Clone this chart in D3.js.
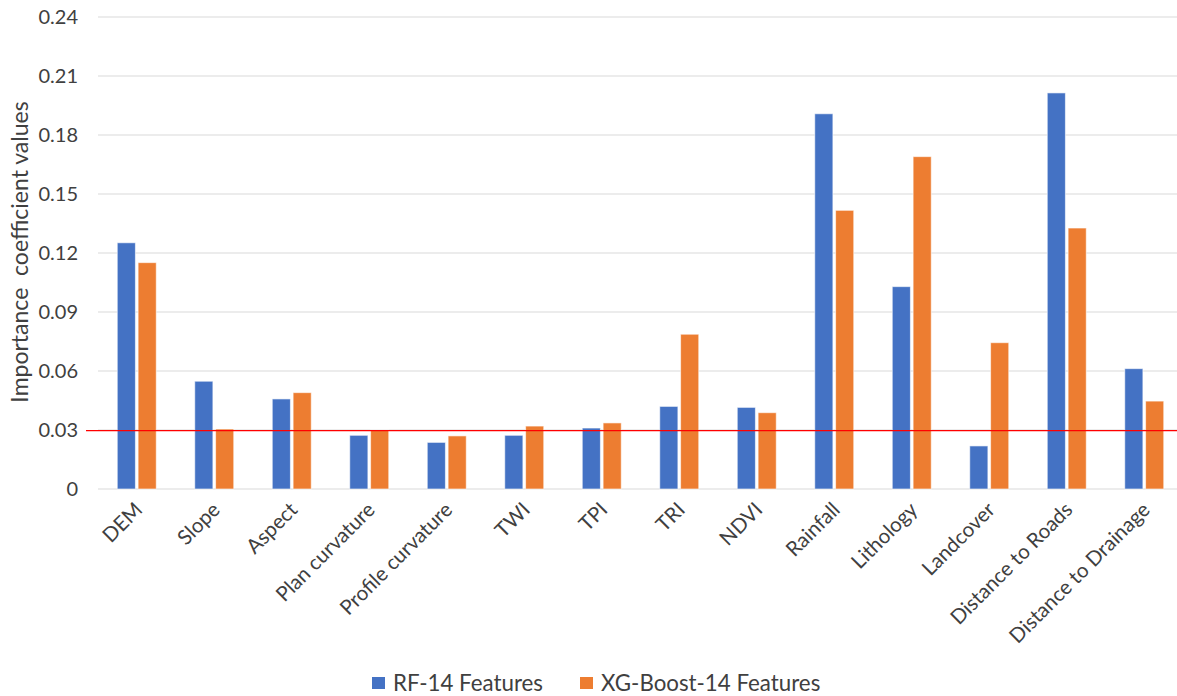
<!DOCTYPE html>
<html>
<head>
<meta charset="utf-8">
<script src="https://cdn.jsdelivr.net/npm/d3@7"></script>
<style>
  body { margin: 0; background: #fff; }
  svg { font-family: Lato, "Liberation Sans", sans-serif; }
</style>
</head>
<body>
<svg id="chart"></svg>
<script>
const categories = ["DEM", "Slope", "Aspect", "Plan curvature", "Profile curvature", "TWI", "TPI", "TRI", "NDVI",
  "Rainfall", "Lithology", "Landcover", "Distance to Roads", "Distance to Drainage"];
const seriesNames = ["RF-14 Features", "XG-Boost-14 Features"];
const rfValues = [0.1252, 0.0548, 0.0458, 0.0273, 0.0237, 0.0273, 0.0310, 0.0420, 0.0415, 0.1908, 0.1029, 0.0219, 0.2014, 0.0612];
const xgbValues = [0.1151, 0.0305, 0.0490, 0.0300, 0.0270, 0.0320, 0.0336, 0.0787, 0.0388, 0.1417, 0.1690, 0.0744, 0.1327, 0.0447];
const yTicks = [0, 0.03, 0.06, 0.09, 0.12, 0.15, 0.18, 0.21, 0.24];
const threshold = 0.0297;

const width = 1177, height = 696;
const margin = { top: 17, right: -6, bottom: 207, left: 98 };
const colors = ["#4472C4", "#ED7D31"];
const textColor = "#404040";

const svg = d3.select("#chart")
  .attr("width", width)
  .attr("height", height);

const x = d3.scaleBand()
  .domain(categories)
  .range([margin.left, width - margin.right]);

const x1 = d3.scaleBand()
  .domain(seriesNames)
  .range([0, 39])
  .paddingInner(0.13);

const y = d3.scaleLinear()
  .domain([0, 0.24])
  .range([height - margin.bottom, margin.top]);

// gridlines
svg.append("g")
  .selectAll("line")
  .data(yTicks)
  .join("line")
  .attr("x1", margin.left)
  .attr("x2", width)
  .attr("y1", d => y(d))
  .attr("y2", d => y(d))
  .attr("stroke", "#d9d9d9")
  .attr("stroke-width", 1);

// y tick labels
const yAxis = d3.axisLeft(y)
  .tickValues(yTicks)
  .tickSize(0)
  .tickPadding(0)
  .tickFormat(d => d === 0 ? "0" : d3.format(".2f")(d));

const yAxisGroup = svg.append("g")
  .attr("transform", `translate(78,0)`)
  .call(yAxis);
yAxisGroup.select(".domain").remove();
yAxisGroup.selectAll("text")
  .attr("font-size", 20)
  .attr("fill", textColor)
  .attr("font-family", "Lato, 'Liberation Sans', sans-serif");

// bars
const data = categories.map((c, i) => ({ cat: c, values: [rfValues[i], xgbValues[i]] }));
const offset = (x.bandwidth() - 39) / 2;

svg.append("g")
  .selectAll("g")
  .data(data)
  .join("g")
  .attr("transform", d => `translate(${x(d.cat) + offset},0)`)
  .selectAll("rect")
  .data(d => d.values.map((v, j) => ({ name: seriesNames[j], v, j })))
  .join("rect")
  .attr("x", d => x1(d.name))
  .attr("width", x1.bandwidth())
  .attr("y", d => y(d.v))
  .attr("height", d => y(0) - y(d.v))
  .attr("fill", d => colors[d.j])
  .attr("stroke", "#fff")
  .attr("stroke-opacity", 0.6)
  .attr("stroke-width", 1);

// threshold line
svg.append("line")
  .attr("x1", 86)
  .attr("x2", width)
  .attr("y1", y(threshold))
  .attr("y2", y(threshold))
  .attr("stroke", "#FF0000")
  .attr("stroke-width", 1.2);

// x labels
const xAxis = d3.axisBottom(x).tickSize(0).tickPadding(0);
const xAxisGroup = svg.append("g")
  .attr("transform", `translate(0,${height - margin.bottom})`)
  .call(xAxis);
xAxisGroup.select(".domain").remove();
xAxisGroup.selectAll("text")
  .attr("font-size", 20.5)
  .attr("fill", textColor)
  .attr("font-family", "Lato, 'Liberation Sans', sans-serif")
  .attr("text-anchor", "end")
  .attr("dy", "0")
  .attr("y", 0)
  .attr("transform", "translate(7,22) rotate(-45)");

// y title
svg.append("text")
  .attr("transform", "translate(28,252) rotate(-90)")
  .attr("text-anchor", "middle")
  .attr("font-size", 23)
  .attr("fill", textColor)
  .attr("xml:space", "preserve")
  .text("Importance  coefficient values");

// legend
const legend = svg.append("g").attr("transform", "translate(372,677)");
const legendItems = legend.selectAll("g")
  .data(seriesNames)
  .join("g")
  .attr("transform", (d, i) => `translate(${i * 208},0)`);
legendItems.append("rect")
  .attr("width", 13)
  .attr("height", 12)
  .attr("fill", (d, i) => colors[i]);
legendItems.append("text")
  .attr("x", 21)
  .attr("y", 14)
  .attr("font-size", 22.3)
  .attr("fill", textColor)
  .text(d => d);
</script>
</body>
</html>
